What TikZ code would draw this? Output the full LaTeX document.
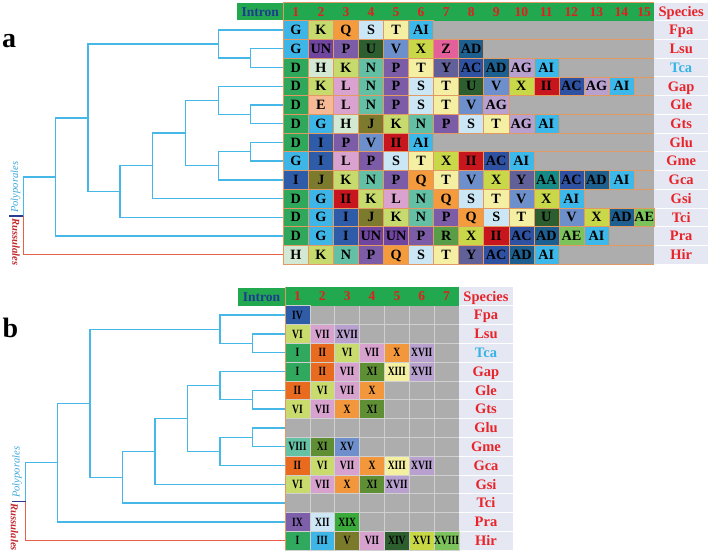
\documentclass[tikz,border=0pt]{standalone}
\usepackage{fontspec}
\setmainfont{Liberation Serif}
\newfontfamily\romfont[FakeStretch=0.76]{Liberation Serif}
\usetikzlibrary{calc}
% general colours
\definecolor{hdrgreen}{HTML}{22A84E}
\definecolor{introblue}{HTML}{1D3C8F}
\definecolor{numred}{HTML}{E0201F}
\definecolor{specred}{HTML}{E8232A}
\definecolor{specblue}{HTML}{36B3E6}
\definecolor{lav}{HTML}{E5E8F2}
\definecolor{cellgray}{HTML}{ADADAD}
\definecolor{gridorange}{HTML}{E39A62}
\definecolor{gridgray}{HTML}{D0D0D0}
\definecolor{treeblue}{HTML}{45B8E8}
\definecolor{treered}{HTML}{E8604A}
\definecolor{stubblue}{HTML}{2B3990}
\definecolor{polyblue}{HTML}{3FA9DD}
\definecolor{russred}{HTML}{C1272D}
% panel a letter colours
\definecolor{caG}{HTML}{3DB5E6}
\definecolor{caD}{HTML}{2FA85C}
\definecolor{caK}{HTML}{C6DA6D}
\definecolor{caQ}{HTML}{F39B3D}
\definecolor{caS}{HTML}{CBE7F6}
\definecolor{caT}{HTML}{F4EFA3}
\definecolor{caAI}{HTML}{3CB8EA}
\definecolor{caUN}{HTML}{7045A0}
\definecolor{caP}{HTML}{7C5CA7}
\definecolor{caU}{HTML}{2C5E2F}
\definecolor{caV}{HTML}{6D8FCB}
\definecolor{caX}{HTML}{C9D848}
\definecolor{caZ}{HTML}{E4609B}
\definecolor{caAD}{HTML}{1D5F8F}
\definecolor{caH}{HTML}{D3E9D3}
\definecolor{caN}{HTML}{64C0A5}
\definecolor{caY}{HTML}{626098}
\definecolor{caAC}{HTML}{2E52A1}
\definecolor{caAG}{HTML}{B8A1CF}
\definecolor{caL}{HTML}{D9A2CF}
\definecolor{caII}{HTML}{C8161E}
\definecolor{caE}{HTML}{F5B996}
\definecolor{caJ}{HTML}{7C7A2C}
\definecolor{caI}{HTML}{2F5CA8}
\definecolor{caR}{HTML}{5A9D48}
\definecolor{caAA}{HTML}{168A86}
\definecolor{caAE}{HTML}{7DC35C}
% panel b numeral colours
\definecolor{cbI}{HTML}{30A85E}
\definecolor{cbII}{HTML}{E96B1F}
\definecolor{cbIII}{HTML}{3DB5E6}
\definecolor{cbIV}{HTML}{2F5CA6}
\definecolor{cbV}{HTML}{7B7A2B}
\definecolor{cbVI}{HTML}{C8DB6C}
\definecolor{cbVII}{HTML}{D8A2CF}
\definecolor{cbVIII}{HTML}{66C2A5}
\definecolor{cbIX}{HTML}{7D5FAA}
\definecolor{cbX}{HTML}{F2973B}
\definecolor{cbXI}{HTML}{5E8F35}
\definecolor{cbXII}{HTML}{CDE7F6}
\definecolor{cbXIII}{HTML}{F5F0A0}
\definecolor{cbXIV}{HTML}{2C5E2E}
\definecolor{cbXV}{HTML}{6E8FCB}
\definecolor{cbXVI}{HTML}{C8D845}
\definecolor{cbXVII}{HTML}{B8A0CF}
\definecolor{cbXVIII}{HTML}{7BC35A}
\definecolor{cbXIX}{HTML}{3AAA3A}

\tikzset{
  tree/.style={draw=treeblue, line width=1.4pt},
  rtree/.style={draw=treered, line width=1.4pt},
  acell/.style={draw=gridorange, line width=0.5pt, minimum height=18.72pt, inner sep=0pt,
    font=\bfseries\fontsize{14.2}{14.2}\selectfont, text height=9.3pt, text depth=0pt},
  bcell/.style={draw=gridgray, line width=0.6pt, minimum width=24.86pt, minimum height=18.8pt, inner sep=0pt,
    font=\romfont\bfseries\fontsize{12.6}{12.6}\selectfont, text height=8.3pt, text depth=0pt},
  hnum/.style={text=numred, font=\bfseries\fontsize{13.5}{13.5}\selectfont, inner sep=0pt, text height=8.9pt, text depth=0pt},
  intronbox/.style={fill=hdrgreen, text=introblue, font=\bfseries\fontsize{13.5}{13.5}\selectfont, inner sep=0pt,
    text height=8.9pt, text depth=0pt},
  spec/.style={font=\bfseries\fontsize{14.5}{14.5}\selectfont, inner sep=0pt, text height=9.6pt, text depth=0pt},
  panel/.style={font=\bfseries\fontsize{28}{28}\selectfont, inner sep=0pt},
  ordlab/.style={font=\itshape\fontsize{10.6}{10.6}\selectfont, inner sep=0pt}
}

\newcommand\tnode[4]{%
  \path ($(#3)!0.5!(#4)$) coordinate (#1-m);
  \coordinate (#1) at (#2,0 |- #1-m);
}
\newcommand\drawtree[9]{%
  \tnode{#1n7a}{#9}{#1-Lsu}{#1-Tca}
  \tnode{#1n6a}{#8}{#1-Fpa}{#1n7a}
  \tnode{#1n7b}{#9}{#1-Gle}{#1-Gts}
  \tnode{#1n6b}{#8}{#1-Gap}{#1n7b}
  \tnode{#1n7c}{#9}{#1-Glu}{#1-Gme}
  \tnode{#1n6c}{#8}{#1n7c}{#1-Gca}
  \tnode{#1n5}{#7}{#1n6b}{#1n6c}
  \tnode{#1n4}{#6}{#1n5}{#1-Gsi}
  \tnode{#1n3}{#5}{#1n4}{#1-Tci}
  \tnode{#1n2}{#4}{#1n6a}{#1n3}
  \tnode{#1n1}{#3}{#1n2}{#1-Pra}
  \tnode{#1n0}{#2}{#1n1}{#1-Hir}
  \draw[tree] (#1n7a)|-(#1-Lsu) (#1n7a)|-(#1-Tca) (#1n6a)|-(#1-Fpa) (#1n6a)|-(#1n7a)
    (#1n7b)|-(#1-Gle) (#1n7b)|-(#1-Gts) (#1n6b)|-(#1-Gap) (#1n6b)|-(#1n7b)
    (#1n7c)|-(#1-Glu) (#1n7c)|-(#1-Gme) (#1n6c)|-(#1n7c) (#1n6c)|-(#1-Gca)
    (#1n5)|-(#1n6b) (#1n5)|-(#1n6c) (#1n4)|-(#1n5) (#1n4)|-(#1-Gsi)
    (#1n3)|-(#1n4) (#1n3)|-(#1-Tci) (#1n2)|-(#1n6a) (#1n2)|-(#1n3)
    (#1n1)|-(#1n2) (#1n1)|-(#1-Pra) (#1n0)|-(#1n1);
  \draw[rtree] (#1n0)|-(#1-Hir);
  \draw[draw=stubblue, line width=1.4pt] (#1n0) -- ++(-14,0);
}

\begin{document}
\begin{tikzpicture}[x=1pt,y=-1pt]
\useasboundingbox[fill=white] (0,0) rectangle (708,552);

% ================= PANEL A =================
\node[panel, anchor=base west] (a-label) at (2,47) {a};
\fill[cellgray] (283.3,20.7) rectangle (654.3,264.1);
\fill[lav] (654.3,2.5) rectangle (708,264.1);
\foreach \r in {0,...,13}{
  \pgfmathsetmacro\yy{20.7+18.72*\r}
  \draw[gridorange, line width=0.6pt] (283.3,\yy) -- (654.3,\yy);
  \draw[white, line width=0.8pt] (654.3,\yy) -- (708,\yy);
}
\fill[hdrgreen] (283.3,2.5) rectangle (654.3,20.7);
\draw[gridorange, line width=0.6pt] (283.3,2.5) -- (654.3,2.5);
\node[intronbox, minimum width=46pt, minimum height=17pt] (a-intron) at (260.3,11.6) {Intron};
\foreach \c in {1,...,15}{
  \pgfmathsetmacro\cw{ifthenelse(\c==15,20.3,25.05)}
  \pgfmathsetmacro\xx{283.3+25.05*(\c-1)+\cw/2}
  \node[hnum] (ah\c) at (\xx,11.6) {\c};
}
\node[spec, text=specred] (a-species) at (681.2,11.6) {Species};
\foreach \r/\row in {1/{G,K,Q,S,T,AI}, 2/{G,UN,P,U,V,X,Z,AD}, 3/{D,H,K,N,P,T,Y,AC,AD,AG,AI},
  4/{D,K,L,N,P,S,T,U,V,X,II,AC,AG,AI}, 5/{D,E,L,N,P,S,T,V,AG}, 6/{D,G,H,J,K,N,P,S,T,AG,AI},
  7/{D,I,P,V,II,AI}, 8/{G,I,L,P,S,T,X,II,AC,AI}, 9/{I,J,K,N,P,Q,T,V,X,Y,AA,AC,AD,AI},
  10/{D,G,II,K,L,N,Q,S,T,V,X,AI}, 11/{D,G,I,J,K,N,P,Q,S,T,U,V,X,AD,AE},
  12/{D,G,I,UN,UN,P,R,X,II,AC,AD,AE,AI}, 13/{H,K,N,P,Q,S,T,Y,AC,AD,AI}}{
  \foreach \l [count=\c] in \row {
    \pgfmathsetmacro\cw{ifthenelse(\c==15,20.3,25.05)}
    \pgfmathsetmacro\xx{283.3+25.05*(\c-1)+\cw/2}
    \pgfmathsetmacro\yy{20.7+18.72*(\r-0.5)}
    \node[acell, minimum width=\cw pt, fill=ca\l] (a\r-\c) at (\xx,\yy) {\l};
  }
}
\draw[gridorange, line width=0.8pt] (283.3,2.5) -- (283.3,264.1);
\foreach \s/\sc [count=\r] in {Fpa/specred,Lsu/specred,Tca/specblue,Gap/specred,Gle/specred,
  Gts/specred,Glu/specred,Gme/specred,Gca/specred,Gsi/specred,Tci/specred,Pra/specred,Hir/specred}{
  \pgfmathsetmacro\yy{20.7+18.72*(\r-0.5)}
  \node[spec, text=\sc] (as\r) at (681.2,\yy) {\s};
  \coordinate (a-\s) at (283.3,\yy);
}
\drawtree{a}{23.3}{55.3}{88}{120}{152.7}{185.3}{218.3}{250.7}
\node[ordlab, text=polyblue, rotate=90, anchor=west] (a-poly) at (15.5,213) {Polyporales};
\node[ordlab, font=\bfseries\itshape\fontsize{10.6}{10.6}\selectfont, text=russred, rotate=-90, anchor=west] (a-russ) at (16,218) {Russulales};

% ================= PANEL B =================
\node[panel, anchor=base west] (b-label) at (2.5,337) {b};
\fill[cellgray] (285,305.7) rectangle (459,550.1);
\fill[lav] (459,287) rectangle (513,550.1);
\foreach \r in {0,...,13}{
  \pgfmathsetmacro\yy{305.7+18.8*\r}
  \draw[gridgray, line width=0.6pt] (285,\yy) -- (459,\yy);
  \draw[white, line width=0.8pt] (459,\yy) -- (513,\yy);
}
\foreach \c in {1,...,6}{
  \pgfmathsetmacro\xx{285+24.86*\c}
  \draw[gridgray, line width=0.6pt] (\xx,305.7) -- (\xx,550.1);
}
\fill[hdrgreen] (285,287) rectangle (459,305.7);
\node[intronbox, minimum width=47pt, minimum height=18pt] (b-intron) at (261.5,297) {Intron};
\foreach \c in {1,...,7}{
  \pgfmathsetmacro\xx{285+24.86*(\c-0.5)}
  \node[hnum] (bh\c) at (\xx,296.5) {\c};
}
\node[spec, text=specred] (b-species) at (486,296.5) {Species};
\foreach \r/\row in {1/{IV}, 2/{VI,VII,XVII}, 3/{I,II,VI,VII,X,XVII}, 4/{I,II,VII,XI,XIII,XVII},
  5/{II,VI,VII,X}, 6/{VI,VII,X,XI}, 8/{VIII,XI,XV}, 9/{II,VI,VII,X,XIII,XVII},
  10/{VI,VII,X,XI,XVII}, 12/{IX,XII,XIX}, 13/{I,III,V,VII,XIV,XVI,XVIII}}{
  \foreach \l [count=\c] in \row {
    \pgfmathsetmacro\xx{285+24.86*(\c-0.5)}
    \pgfmathsetmacro\yy{305.7+18.8*(\r-0.5)}
    \node[bcell, fill=cb\l] (b\r-\c) at (\xx,\yy) {\l};
  }
}
\draw[gridorange, line width=0.8pt] (285,287) -- (285,550.1);
\foreach \s/\sc [count=\r] in {Fpa/specred,Lsu/specred,Tca/specblue,Gap/specred,Gle/specred,
  Gts/specred,Glu/specred,Gme/specred,Gca/specred,Gsi/specred,Tci/specred,Pra/specred,Hir/specred}{
  \pgfmathsetmacro\yy{305.7+18.8*(\r-0.5)}
  \node[spec, text=\sc] (bs\r) at (486,\yy) {\s};
  \coordinate (b-\s) at (285,\yy);
}
\drawtree{b}{25.7}{57.7}{90}{122.7}{155}{187.7}{220}{252.3}
\node[ordlab, text=polyblue, rotate=90, anchor=west] (b-poly) at (17,498) {Polyporales};
\node[ordlab, font=\bfseries\itshape\fontsize{10.6}{10.6}\selectfont, text=russred, rotate=-90, anchor=west] (b-russ) at (14.5,503.5) {Russulales};
\end{tikzpicture}
\end{document}
